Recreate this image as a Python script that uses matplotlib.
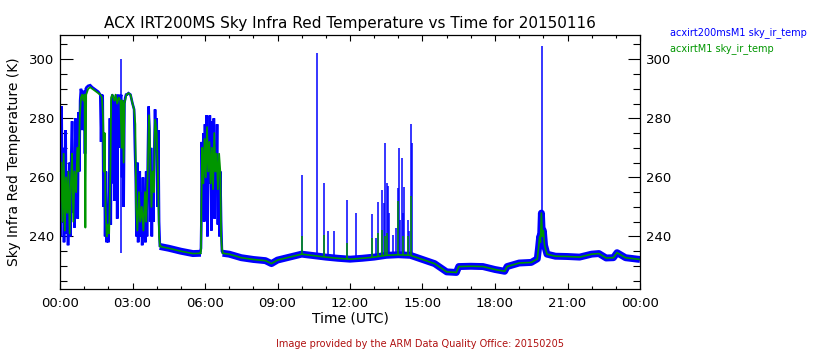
import matplotlib
matplotlib.use("Agg")
import matplotlib.pyplot as plt
import numpy as np
from matplotlib.ticker import MultipleLocator

# ---- data -------------------------------------------------------------
# Cloudy period after midnight (minutes since 00:00 UTC, temperature in K)
cloud1_min = [0, 2, 4, 6, 8, 10, 12, 14, 16, 18, 20, 22, 24, 26, 28, 30, 32, 34,
              36, 38, 40, 42, 44, 46, 48, 50, 52, 54, 56, 58, 60, 62, 64, 66, 70,
              75, 80, 85, 90, 95, 100, 102, 104, 106, 108, 110, 112, 114, 116,
              118, 120, 122, 124, 126, 128, 130, 132, 134, 136, 138, 140, 142,
              144, 146, 148, 150, 152, 154, 156, 158, 160, 162, 164, 166, 170,
              175, 180, 184, 186, 188, 190, 192, 194, 196, 198, 200, 202, 204,
              206, 208, 210, 212, 214, 216, 218, 220, 222, 224, 226, 228, 230,
              232, 234, 236, 238, 240, 242, 244, 246, 248, 250]
cloud1_blue = [262, 240, 284, 245, 270, 238, 258, 276, 241, 262, 237, 255, 265,
               240, 268, 279, 248, 262, 243, 280, 252, 270, 246, 282, 262, 286,
               290, 288, 276, 289, 289, 268, 290, 290.5, 291, 291.2, 290.5, 290,
               289.5, 289, 288, 272, 288, 287.5, 250, 270, 240, 262, 238, 245,
               238, 255, 280, 244, 286, 288, 258, 287, 252, 287, 288, 246, 287,
               288, 270, 287, 288, 260, 286, 250, 285, 287, 288, 288, 288.5, 288,
               285, 283, 270, 260, 240, 265, 238, 250, 262, 240, 255, 237, 260,
               244, 250, 238, 262, 240, 266, 284, 276, 245, 270, 240, 262, 245,
               268, 283, 270, 280, 250, 276, 245, 236.5, 237]

cloud1_green_min = [0, 3, 6, 9, 12, 15, 18, 21, 24, 27, 30, 33, 36, 40, 43, 46,
                    49, 52, 55, 58, 61, 63, 65, 70, 75, 80, 90, 100, 104, 107,
                    109, 111, 113, 116, 119, 122, 125, 127, 130, 135, 138, 142,
                    146, 150, 153, 155, 158, 160, 165, 170, 175, 180, 184, 187,
                    189, 192, 196, 199, 203, 207, 211, 214, 218, 221, 224, 227,
                    230, 233, 236, 240, 243, 246, 248, 250]
cloud1_green = [250, 265, 245, 268, 242, 260, 248, 262, 241, 258, 268, 245, 262,
                255, 270, 262, 280, 287, 288, 286, 288, 243, 288, 290, 290.5,
                290, 289, 288, 287, 280, 262, 275, 250, 240, 244, 241, 262, 287,
                288, 286, 288, 285, 287, 286, 270, 286, 265, 285, 288, 288.5,
                288, 285, 283, 278, 250, 242, 255, 245, 250, 242, 255, 245, 262,
                281, 268, 250, 262, 255, 279.5, 275, 262, 240, 237, 236.8]

# Morning cloud burst around 06:00 UTC
cloud2_min = [348, 350, 351, 352, 354, 356, 358, 360, 362, 364, 366, 368, 370,
              372, 374, 376, 378, 380, 382, 384, 386, 388, 390, 392, 394, 396,
              398, 400, 402, 404]
cloud2_blue = [234.5, 236, 245, 272, 252, 275, 245, 278, 250, 281, 240, 276, 258,
               281, 262, 242, 279, 252, 280, 246, 270, 258, 278, 244, 265, 240,
               262, 245, 235, 234.5]

cloud2_green_min = [348, 350, 351, 353, 356, 359, 362, 365, 368, 371, 374, 377,
                    380, 383, 386, 389, 392, 395, 398, 400, 402, 404]
cloud2_green = [234.5, 235, 250, 270, 258, 273, 260, 277, 262, 272, 258, 270,
                256, 275, 262, 268, 256, 268, 262, 240, 236, 234.5]

# Clear-sky segments (hours UTC, K); both radiometers track these values
clear_am_hr = [4.13, 4.5, 5.0, 5.5, 5.83]
clear_am_temp = [236.6, 236.0, 235.0, 234.2, 234.3]

clear_pm_hr = [6.73, 7.0, 7.5, 8.0, 8.5, 8.75, 9.0, 9.5, 10.0, 10.5, 11.0, 11.5,
               12.0, 12.5, 13.0, 13.5, 14.0, 14.5, 15.0, 15.5, 16.0, 16.4, 16.5,
               17.0, 17.5, 18.0, 18.4, 18.5, 19.0, 19.5, 19.75, 19.8, 19.85,
               19.88, 19.92, 19.96, 20.0, 20.05, 20.15, 20.5, 21.0, 21.5, 22.0,
               22.3, 22.6, 22.9, 23.05, 23.4, 24.0]
clear_pm_temp = [234.3, 234.0, 232.8, 232.2, 231.8, 230.8, 232.0, 233.0, 234.0,
                 233.5, 233.0, 232.6, 232.3, 232.6, 233.0, 233.6, 233.8, 233.6,
                 232.2, 230.8, 228.0, 227.8, 229.8, 229.9, 229.8, 228.8, 228.2,
                 229.8, 231.0, 231.2, 232.4, 236.0, 240.0, 238.0, 247.9, 240.0,
                 242.0, 237.0, 234.0, 233.3, 233.2, 233.0, 234.0, 234.2, 232.7,
                 232.8, 234.5, 232.8, 232.2]

# Isolated single-sample spikes (hours UTC, peak K)
blue_spike_hr = [2.52, 10.03, 10.65, 10.94, 11.10, 11.35, 11.89, 12.26, 12.92,
                 13.08, 13.16, 13.33, 13.39, 13.46, 13.53, 13.59, 13.63, 13.79,
                 13.92, 13.98, 14.04, 14.08, 14.16, 14.20, 14.24, 14.41, 14.45,
                 14.51, 14.55, 19.95]
blue_spike_temp = [300, 260.9, 302.2, 258.1, 242, 242, 252.4, 248, 247.7, 239.5,
                   251.7, 255.8, 251.4, 271.7, 258.1, 257, 248, 240.5, 243, 256.4,
                   270, 245.7, 266.6, 248, 256.7, 245.7, 241.7, 277.9, 271.7,
                   304.4]
green_spike_hr = [10.03, 10.94, 11.89, 12.92, 13.16, 13.33, 13.46, 13.53, 13.98,
                  14.20, 14.41, 14.51]
green_spike_temp = [240, 240.6, 237.9, 239.5, 241, 242.3, 240, 241, 251.9, 240,
                    240, 253.6]

hour_ticks = [0, 3, 6, 9, 12, 15, 18, 21, 24]
hour_labels = ["00:00", "03:00", "06:00", "09:00", "12:00", "15:00", "18:00",
               "21:00", "00:00"]
temp_ticks = [240, 260, 280, 300]

BLUE = "#0000ff"
GREEN = "#009600"

# ---- figure -----------------------------------------------------------
fig = plt.figure(figsize=(8.4, 3.5), dpi=100)
ax = fig.add_axes([60 / 840, 1 - 289 / 350, 580 / 840, 254 / 350])

to_hr = lambda m: np.asarray(m, dtype=float) / 60.0

# acxirt200msM1 (blue): cloudy stretches thin, clear-sky stretches as a wide noisy band
ax.plot(to_hr(cloud1_min), cloud1_blue, color=BLUE, lw=1.9, solid_joinstyle="miter")
ax.plot(to_hr(cloud2_min), cloud2_blue, color=BLUE, lw=1.9, solid_joinstyle="miter")
ax.plot(clear_am_hr, clear_am_temp, color=BLUE, lw=5.0, solid_capstyle="butt")
ax.plot(clear_pm_hr, clear_pm_temp, color=BLUE, lw=5.0, solid_capstyle="butt")
ax.vlines(blue_spike_hr,
          np.interp(blue_spike_hr, clear_pm_hr, clear_pm_temp,
                    left=clear_pm_temp[0]),
          blue_spike_temp, color=BLUE, lw=1.1)

# acxirtM1 (green)
ax.plot(to_hr(cloud1_green_min), cloud1_green, color=GREEN, lw=1.3)
ax.plot(to_hr(cloud2_green_min), cloud2_green, color=GREEN, lw=1.3)
ax.plot(clear_am_hr, clear_am_temp, color=GREEN, lw=1.2)
ax.plot(clear_pm_hr, clear_pm_temp, color=GREEN, lw=1.2)
ax.vlines(green_spike_hr,
          np.interp(green_spike_hr, clear_pm_hr, clear_pm_temp),
          green_spike_temp, color=GREEN, lw=1.1)

# ---- axes ---------------------------------------------------------------
ax.set_xlim(0, 24)
ax.set_ylim(222.2, 308.2)
ax.set_xticks(hour_ticks)
ax.set_xticklabels(hour_labels)
ax.xaxis.set_minor_locator(MultipleLocator(1))
ax.set_yticks(temp_ticks)
ax.yaxis.set_minor_locator(MultipleLocator(5))

for s in ax.spines.values():
    s.set_linewidth(0.9)
    s.set_color("black")

ax.tick_params(axis="x", which="both", direction="in", top=True, bottom=True,
               labelsize=9.5, pad=6, width=0.8)
ax.tick_params(axis="x", which="major", length=4.3)
ax.tick_params(axis="x", which="minor", length=2.5)
ax.tick_params(axis="y", which="both", direction="in", left=True, right=True,
               labelleft=True, labelright=True, labelsize=9.5, pad=4, width=0.8)
ax.tick_params(axis="y", which="major", length=9)
ax.tick_params(axis="y", which="minor", length=4.8)

ax.set_title("ACX IRT200MS Sky Infra Red Temperature vs Time for 20150116",
             fontsize=11, pad=5)
fig.text(14 / 840, 1 - 162 / 350, "Sky Infra Red Temperature (K)", rotation=90,
         ha="center", va="center", fontsize=10)
fig.text(350 / 840, 1 - 318 / 350, "Time (UTC)", ha="center", va="center",
         fontsize=10)

fig.text(670 / 840, 1 - 33 / 350, "acxirt200msM1 sky_ir_temp", color=BLUE,
         ha="left", va="center", fontsize=7)
fig.text(670 / 840, 1 - 49 / 350, "acxirtM1 sky_ir_temp", color=GREEN,
         ha="left", va="center", fontsize=7)

fig.text(420 / 840, 1 - 344 / 350,
         "Image provided by the ARM Data Quality Office: 20150205",
         color="#b01010", ha="center", va="center", fontsize=7)

fig.savefig("out.png", dpi=100, facecolor="white")
